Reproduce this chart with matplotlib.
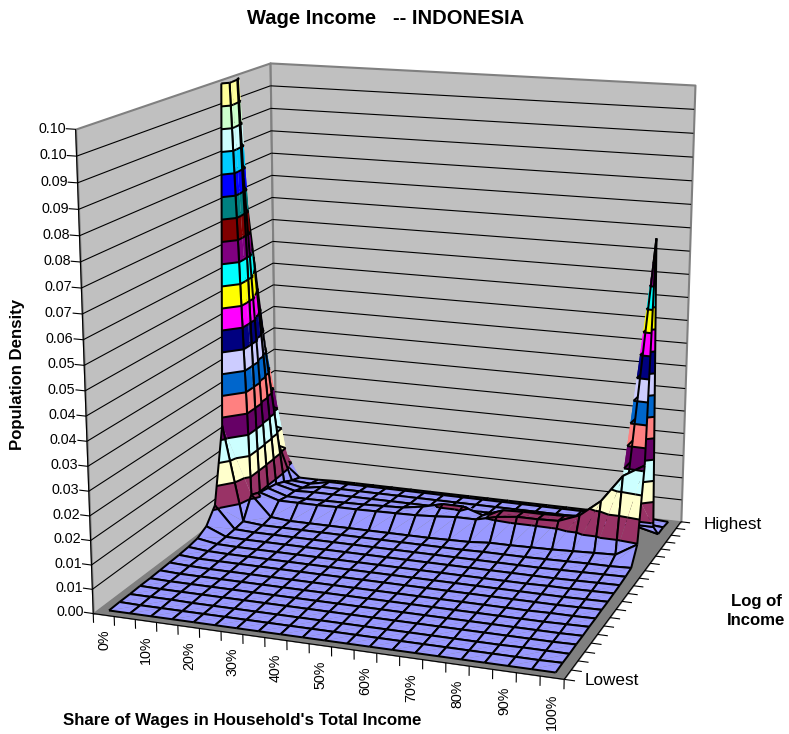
import matplotlib
matplotlib.use('Agg')
import matplotlib.pyplot as plt
import numpy as np
from mpl_toolkits.mplot3d import proj3d
from mpl_toolkits.mplot3d.art3d import Poly3DCollection, Line3DCollection

plt.rcParams['font.family'] = ['Liberation Sans', 'DejaVu Sans']

z_labels = ['0.00', '0.01', '0.01', '0.02', '0.02', '0.03', '0.03', '0.04', '0.04', '0.05',
            '0.05', '0.06', '0.07', '0.07', '0.08', '0.08', '0.09', '0.09', '0.10', '0.10']
z_step = 0.00545
z_top = 0.1036
share_labels = ['0%', '10%', '20%', '30%', '40%', '50%', '60%', '70%', '80%', '90%', '100%']
band_colors = ['#9999FF', '#993366', '#FFFFCC', '#CCFFFF', '#660066', '#FF8080', '#0066CC',
               '#CCCCFF', '#000080', '#FF00FF', '#FFFF00', '#00FFFF', '#800080', '#800000',
               '#008080', '#0000FF', '#00CCFF', '#CCFFFF', '#CCFFCC', '#FFFF99']

# one row per income level, lowest first, one value per wage share step (0%, 5%, ... 100%)
density = np.array([
    [.0001, .0001, .0001, .0001, .0001, .0001, .0001, .0001, .0001, .0001, .0001, .0001, .0001, .0001, .0001, .0001, .0001, .0001, .0001, .0001, .0001],
    [.0002, .0001, .0001, .0001, .0001, .0001, .0001, .0001, .0001, .0001, .0001, .0001, .0001, .0001, .0001, .0001, .0001, .0001, .0001, .0001, .0002],
    [.0002, .0002, .0002, .0001, .0001, .0001, .0001, .0001, .0001, .0001, .0001, .0001, .0001, .0001, .0001, .0001, .0001, .0001, .0002, .0002, .0002],
    [.0003, .0002, .0002, .0002, .0002, .0002, .0002, .0002, .0002, .0002, .0002, .0002, .0002, .0002, .0002, .0002, .0002, .0002, .0002, .0002, .0003],
    [.0003, .0002, .0002, .0002, .0002, .0002, .0002, .0002, .0002, .0002, .0002, .0002, .0002, .0002, .0002, .0002, .0002, .0002, .0002, .0002, .0003],
    [.0004, .0002, .0002, .0002, .0002, .0002, .0002, .0002, .0002, .0002, .0002, .0002, .0002, .0002, .0002, .0002, .0002, .0002, .0002, .0003, .0004],
    [.0005, .0003, .0002, .0002, .0002, .0002, .0002, .0002, .0002, .0002, .0002, .0002, .0002, .0002, .0002, .0002, .0002, .0002, .0003, .0003, .0004],
    [.0006, .0003, .0003, .0003, .0003, .0003, .0003, .0003, .0003, .0003, .0003, .0003, .0003, .0003, .0003, .0003, .0003, .0003, .0003, .0004, .0005],
    [.0008, .0004, .0003, .0003, .0003, .0003, .0003, .0003, .0003, .0003, .0003, .0003, .0003, .0003, .0003, .0003, .0003, .0003, .0003, .0004, .0005],
    [.0012, .0004, .0003, .0003, .0003, .0003, .0003, .0003, .0003, .0003, .0003, .0003, .0003, .0003, .0003, .0003, .0003, .0004, .0004, .0005, .0006],
    [.0025, .0005, .0004, .0004, .0004, .0004, .0004, .0004, .0004, .0004, .0004, .0004, .0004, .0004, .0004, .0004, .0004, .0004, .0005, .0006, .0007],
    [.0060, .0007, .0005, .0005, .0005, .0005, .0005, .0005, .0005, .0005, .0005, .0005, .0005, .0005, .0005, .0005, .0005, .0006, .0007, .0008, .0009],
    [.0240, .0010, .0006, .0006, .0006, .0006, .0006, .0006, .0006, .0006, .0006, .0006, .0006, .0007, .0007, .0007, .0008, .0009, .0010, .0010, .0012],
    [.1400, .0060, .0010, .0006, .0006, .0006, .0006, .0006, .0006, .0006, .0006, .0007, .0008, .0012, .0012, .0013, .0014, .0016, .0018, .0020, .0050],
    [.1300, .0050, .0035, .0035, .0035, .0036, .0036, .0037, .0038, .0039, .0042, .0046, .0046, .0058, .0064, .0064, .0066, .0085, .0125, .0190, .0220],
    [.0800, .0045, .0030, .0029, .0030, .0031, .0032, .0034, .0036, .0044, .0056, .0056, .0040, .0058, .0060, .0060, .0062, .0068, .0095, .0170, .0728],
    [.0600, .0040, .0028, .0030, .0030, .0030, .0030, .0030, .0030, .0030, .0030, .0030, .0030, .0030, .0030, .0030, .0030, .0030, .0032, .0042, .0042],
    [.0400, .0030, .0020, .0028, .0028, .0028, .0028, .0028, .0028, .0028, .0028, .0028, .0028, .0028, .0028, .0028, .0028, .0028, .0028, .0020, .0008],
    [.0150, .0018, .0015, .0025, .0025, .0025, .0025, .0025, .0025, .0025, .0025, .0025, .0025, .0025, .0025, .0025, .0025, .0025, .0022, .0012, .0008],
    [.0050, .0010, .0010, .0012, .0012, .0012, .0012, .0012, .0012, .0012, .0012, .0012, .0012, .0012, .0012, .0012, .0012, .0012, .0012, .0008, .0005],
])
n_rows, n_cols = density.shape
band_edges = np.linspace(0, z_top, len(band_colors) + 1)

fig = plt.figure(figsize=(7.89, 7.34), dpi=100)
ax = fig.add_axes([390.8128 / 789 - 900 / 789 / 2, 1 - 353.6447 / 734 - 900 / 734 / 2, 900 / 789, 900 / 734],
                  projection='3d', computed_zorder=False)
ax.set_axis_off()
ax.patch.set_alpha(0)
x_lo, x_hi, y_lo, y_hi = -0.5, n_cols - 0.5, -0.5, n_rows - 0.5
ax.set_xlim(x_lo, x_hi, view_margin=0)
ax.set_ylim(y_lo, y_hi, view_margin=0)
ax.set_zlim(0, z_top, view_margin=0)
ax.view_init(elev=14.8794, azim=-70.1676)
ax.set_proj_type('persp', focal_length=0.4793)
ax.set_box_aspect((1, 0.9626, 1.0012), zoom=0.8758)
ax.apply_aspect()

# walls and floor
wall_kw = dict(facecolor='#C0C0C0', edgecolor='#808080', linewidth=1.5, zorder=1)
ax.add_collection3d(Poly3DCollection([[(x_lo, y_lo, 0), (x_lo, y_hi, 0), (x_lo, y_hi, z_top), (x_lo, y_lo, z_top)]], **wall_kw))
ax.add_collection3d(Poly3DCollection([[(x_lo, y_hi, 0), (x_hi, y_hi, 0), (x_hi, y_hi, z_top), (x_lo, y_hi, z_top)]], **wall_kw))
ax.add_collection3d(Poly3DCollection([[(x_lo, y_lo, 0), (x_hi, y_lo, 0), (x_hi, y_hi, 0), (x_lo, y_hi, 0)]],
                                     facecolor='#808080', edgecolor='#808080', linewidth=0.5, zorder=2))

# gridlines and tick marks
z_ticks = z_step * np.arange(len(z_labels))
grid = []
for z in z_ticks[1:-1]:
    grid.append([(x_lo, y_lo, z), (x_lo, y_hi, z)])
    grid.append([(x_lo, y_hi, z), (x_hi, y_hi, z)])
ax.add_collection3d(Line3DCollection(grid, colors='black', linewidths=0.8, zorder=3))
ticks = [[(x_lo, y_lo, z), (x_lo - 0.45, y_lo, z)] for z in z_ticks]
ticks += [[(x, y_lo, 0), (x, y_lo, -0.0021)] for x in np.arange(x_lo, x_hi + 0.5)]
ticks += [[(x_hi, y, 0), (x_hi + 0.45, y, 0)] for y in np.arange(y_lo, y_hi + 0.5)]
ticks.append([(x_lo, y_lo, 0), (x_lo, y_lo, z_top)])
ticks.append([(x_lo, y_lo, 0), (x_hi, y_lo, 0)])
ticks.append([(x_hi, y_lo, 0), (x_hi, y_hi, 0)])
ax.add_collection3d(Line3DCollection(ticks, colors='black', linewidths=0.8, zorder=4))


def clip_poly(poly, level, keep_above):
    out = []
    for a, b in zip(poly, poly[1:] + poly[:1]):
        in_a = (a[2] >= level) == keep_above
        in_b = (b[2] >= level) == keep_above
        if in_a:
            out.append(a)
        if in_a != in_b:
            t = (level - a[2]) / (b[2] - a[2])
            out.append(tuple(a[k] + t * (b[k] - a[k]) for k in range(3)))
    return out


def level_segment(tri, level):
    pts = []
    for a, b in zip(tri, tri[1:] + tri[:1]):
        if (a[2] >= level) != (b[2] >= level):
            t = (level - a[2]) / (b[2] - a[2])
            pts.append(tuple(a[k] + t * (b[k] - a[k]) for k in range(3)))
    return pts if len(pts) == 2 else None


def clip_edge(a, b):
    if a[2] > z_top and b[2] > z_top:
        return None
    if a[2] > b[2]:
        a, b = b, a
    if b[2] > z_top:
        t = (z_top - a[2]) / (b[2] - a[2])
        b = tuple(a[k] + t * (b[k] - a[k]) for k in range(3))
    return [a, b]


# surface, cell by cell from the back row forward and left to right
order = 10
for j in range(n_rows - 2, -1, -1):
    for i in range(n_cols - 1):
        a = (i, j, density[j, i])
        b = (i + 1, j, density[j, i + 1])
        c = (i + 1, j + 1, density[j + 1, i + 1])
        d = (i, j + 1, density[j + 1, i])
        polys, colors, segs = [], [], []
        for tri in ([a, c, d], [a, b, c]):
            for n, color in enumerate(band_colors):
                piece = clip_poly(tri, band_edges[n], True)
                if len(piece) >= 3:
                    piece = clip_poly(piece, band_edges[n + 1], False)
                if len(piece) >= 3:
                    polys.append(piece)
                    colors.append(color)
            for level in band_edges[1:]:
                s = level_segment(tri, level)
                if s:
                    segs.append(s)
        for e in ((a, b), (b, c), (c, d), (d, a)):
            s = clip_edge(e[0], e[1])
            if s:
                segs.append(s)
        ax.add_collection3d(Poly3DCollection(polys, facecolors=colors, linewidths=0, zorder=order))
        ax.add_collection3d(Line3DCollection(segs, colors='black', linewidths=1.45, zorder=order + 1))
        order += 2


def place(x, y, z, label, **kw):
    xs, ys, _ = proj3d.proj_transform(x, y, z, ax.get_proj())
    ax.text2D(xs, ys, label, transform=ax.transData, zorder=2000, **kw)


# labels
for z, label in zip(z_ticks, z_labels):
    place(x_lo - 0.45, y_lo, z, label, ha='right', va='center', fontsize=10.3)
for x, label in zip(np.arange(0, n_cols, 2), share_labels):
    place(x, y_lo, -0.0033, label, rotation=90, ha='center', va='top', fontsize=10.3)
place(x_hi + 0.7, 0, -0.0008, 'Lowest', ha='left', va='center', fontsize=12.3)
place(x_hi + 1.2, n_rows - 1, 0.0008, 'Highest', ha='left', va='center', fontsize=12.3)

fig.text(385.5 / 789, 1 - 18 / 734, 'Wage Income   -- INDONESIA', ha='center', va='center', fontsize=14.5, fontweight='bold')
fig.text(242 / 789, 1 - 721 / 734, "Share of Wages in Household's Total Income", ha='center', va='center', fontsize=12.2, fontweight='bold')
fig.text(18 / 789, 1 - 374 / 734, 'Population Density', rotation=90, ha='center', va='center', fontsize=12.1, fontweight='bold')
fig.text(756 / 789, 1 - 611 / 734, 'Log of\nIncome', ha='center', va='center', fontsize=12.1, fontweight='bold', linespacing=1.3)

fig.savefig('out.png', dpi=100)
